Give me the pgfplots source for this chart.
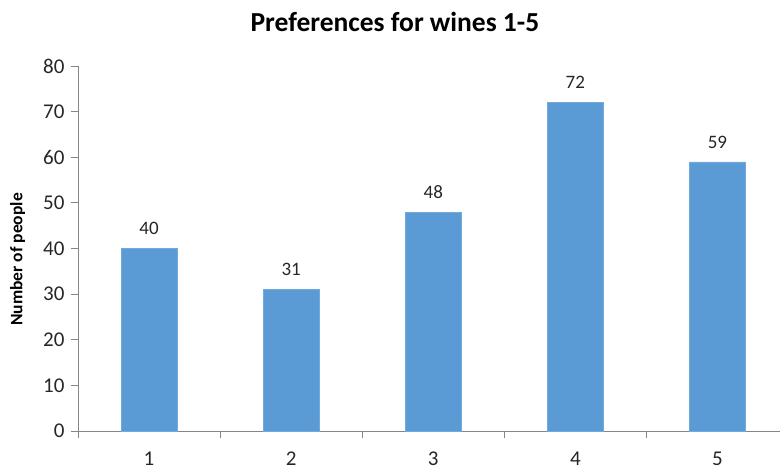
\documentclass[border=0pt]{standalone}
\usepackage{pgfplots}
\pgfplotsset{compat=1.18}
\usepackage{fontspec}
\setmainfont{Carlito}
\definecolor{barblue}{HTML}{5B9BD5}
\definecolor{axgray}{HTML}{868686}
\definecolor{txt}{HTML}{262626}
\begin{document}
\begin{tikzpicture}
\begin{axis}[
    scale only axis,
    width=702pt, height=365pt,
    at={(0,0)}, anchor=south west,
    xmin=0.5, xmax=5.44,
    ymin=0, ymax=80,
    axis x line=bottom, axis y line=left,
    axis line style={-, draw=axgray, line width=0.9pt},
    ytick={0,10,...,80},
    xtick={1,2,3,4,5},
    xticklabels={1,2,3,4,5},
    minor xtick={0.5,1.5,2.5,3.5,4.5,5.5},
    major x tick style={draw=none},
    minor x tick style={draw=axgray, line width=0.9pt},
    y tick style={draw=axgray, line width=0.9pt},
    tick align=outside,
    major tick length=7pt, minor tick length=7pt,
    /pgf/number format/assume math mode=true,
    tick label style={font=\fontsize{21}{24}\selectfont, text=txt},
    yticklabel style={xshift=-3pt},
    xticklabel style={yshift=-10pt},
    ylabel={\textbf{Number of people}},
    ylabel style={at={(axis description cs:-0.086,0.47)}, anchor=center, font=\fontsize{17.5}{20}\selectfont, text=black},
    ybar, bar width=56pt,
    nodes near coords,
    every node near coord/.append style={font=\fontsize{19}{22}\selectfont, text=txt, yshift=10pt},
    clip=false,
]
\addplot[fill=barblue, draw=barblue!85!white] coordinates {(1,40) (2,31) (3,48) (4,72) (5,59)};
\end{axis}
\node[font=\bfseries\fontsize{27.5}{31}\selectfont, text=black] at (317pt,409pt) {Preferences for wines 1-5};
\pgfresetboundingbox
\path[use as bounding box] (-78pt,-40pt) rectangle (705pt,431pt);
\end{tikzpicture}
\end{document}
